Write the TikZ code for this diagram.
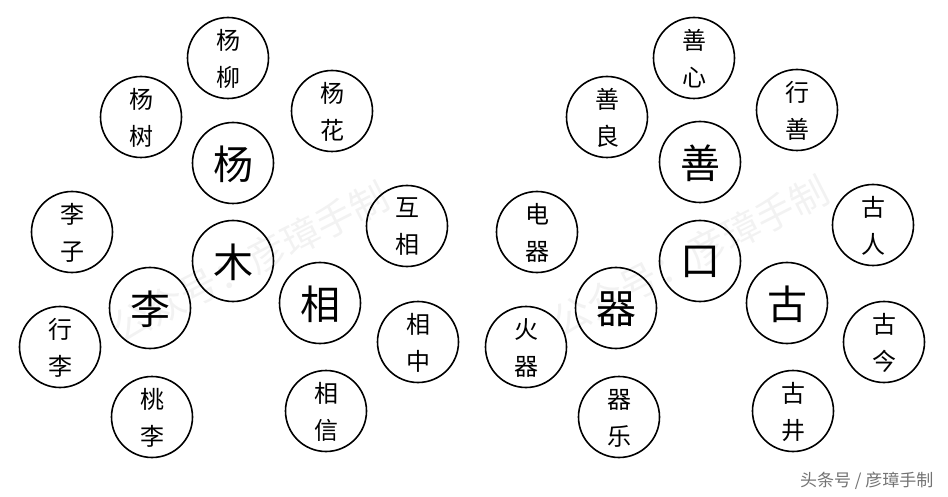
\documentclass[tikz,border=0pt]{standalone}
\usepackage{fontspec}
\newfontfamily\cjk{Noto Sans CJK SC}
\begin{document}
\begin{tikzpicture}[x=1pt,y=-1pt,
  ring/.style={circle,draw,line width=1.6pt,minimum size=81pt,inner sep=0pt},
  small/.style={ring,align=center,font=\cjk\fontsize{24}{37}\selectfont,text depth=-4pt},
  big/.style={ring,font=\cjk\fontsize{40}{44}\selectfont,text depth=-3pt},
  wm/.style={text=black!5,font=\cjk\fontsize{38}{40}\selectfont}]
\useasboundingbox (0,0) rectangle (948,497);
% watermarks
\node[wm,rotate=27] (wm1) at (250,262) {公众号：彦璋手制};
\node[wm,rotate=27] (wm2) at (690,256) {公众号：彦璋手制};
\node[text=black!55,font=\cjk\fontsize{17}{18}\selectfont,anchor=east] (wm3) at (937,481) {头条号 / 彦璋手制};
% left group
\node[small] (yl) at (228,58) {杨\\柳};
\node[small] (ys) at (141,117) {杨\\树};
\node[small] (yh) at (332,111) {杨\\花};
\node[big] (yang) at (233,163) {杨};
\node[small] (lz) at (72,232) {李\\子};
\node[small] (hx) at (407,226) {互\\相};
\node[big] (mu) at (233,261) {木};
\node[big] (li) at (150,308) {李};
\node[big] (xiang) at (320,303) {相};
\node[small] (xl) at (60,347) {行\\李};
\node[small] (xz) at (418,342) {相\\中};
\node[small] (tl) at (152,417) {桃\\李};
\node[small] (xx) at (326,411) {相\\信};
% right group
\node[small] (sx) at (694,58) {善\\心};
\node[small] (sl) at (607,117) {善\\良};
\node[small] (xs) at (797,110) {行\\善};
\node[big] (shan) at (700,162) {善};
\node[small] (dq) at (537,232) {电\\器};
\node[small] (gr) at (873,225) {古\\人};
\node[big] (kou) at (700,261) {口};
\node[big] (qi) at (616,308) {器};
\node[big] (gu) at (787,303) {古};
\node[small] (hq) at (526,347) {火\\器};
\node[small] (gj) at (884,342) {古\\今};
\node[small] (qy) at (619,417) {器\\乐};
\node[small] (gjing) at (793,411) {古\\井};
\end{tikzpicture}
\end{document}
